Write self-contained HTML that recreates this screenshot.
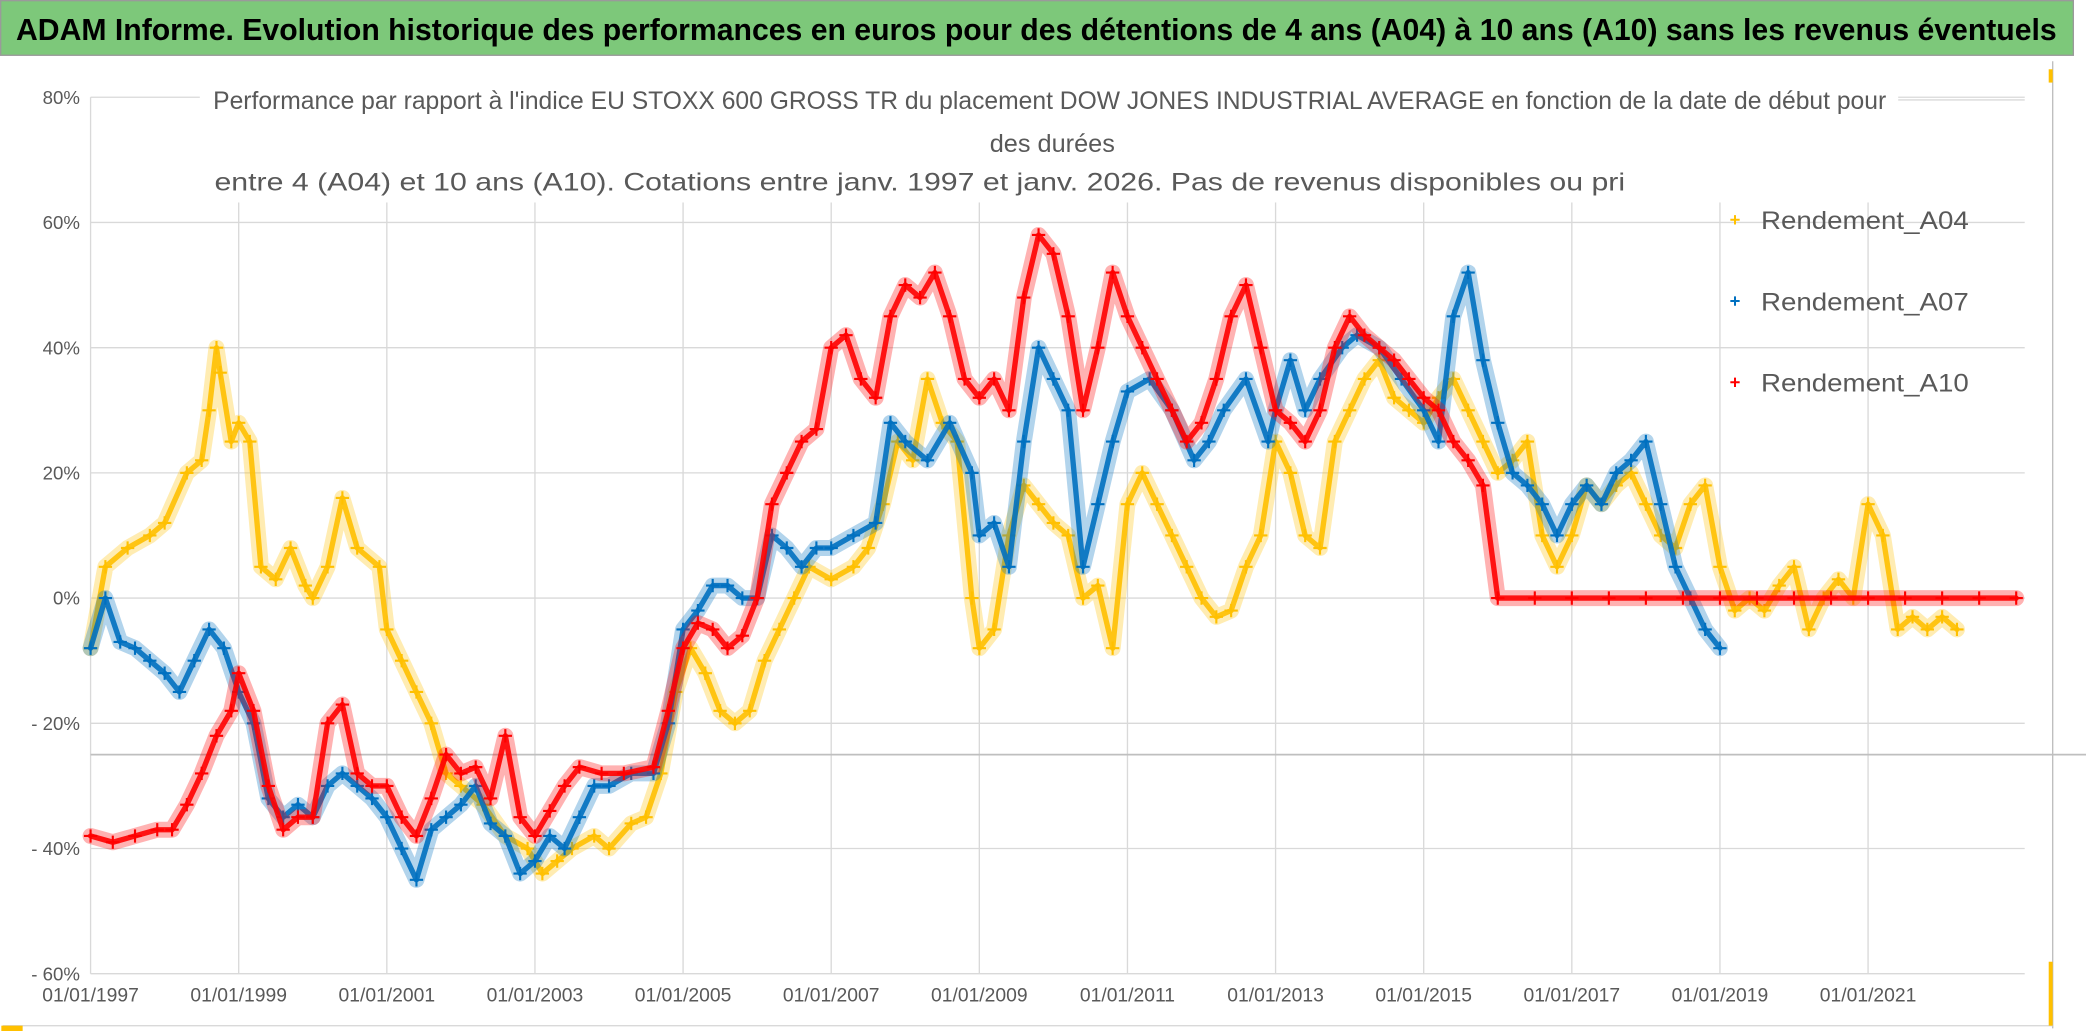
<!DOCTYPE html>
<html><head><meta charset="utf-8">
<style>
html,body{margin:0;padding:0;background:#fff;}
svg{display:block;}
text{font-family:"Liberation Sans",sans-serif;}
</style></head>
<body>
<svg id="chart" width="2086" height="1031" viewBox="0 0 1566 774" preserveAspectRatio="none" xmlns="http://www.w3.org/2000/svg">
<rect x="0" y="0" width="1566" height="774" fill="#fff"/>
<rect x="0.5" y="0.5" width="1556" height="41" fill="#7dc87a" stroke="#9a9a9a"/>
<text x="12" y="30" font-size="23" font-weight="bold" fill="#000" textLength="1532" lengthAdjust="spacingAndGlyphs">ADAM Informe. Evolution historique des performances en euros pour des détentions de 4 ans (A04) à 10 ans (A10) sans les revenus éventuels</text>
<line x1="1541" y1="46" x2="1541" y2="772" stroke="#bdbdbd" stroke-width="1"/>
<line x1="2" y1="770" x2="1541" y2="770" stroke="#d9d9d9" stroke-width="1"/>
<rect x="1" y="770" width="16" height="4" fill="#ffc000"/>
<rect x="1538" y="52" width="3" height="10" fill="#ffc000"/>
<rect x="1538" y="722" width="3" height="48" fill="#ffc000"/>
<g id="grid"></g>
<g id="axes"></g>
<g id="series"></g>
<rect x="150" y="60" width="1275" height="92" fill="#fff"/>
<text x="160" y="82" font-size="19" fill="#595959" textLength="1256" lengthAdjust="spacingAndGlyphs">Performance par rapport à l'indice EU STOXX 600 GROSS TR  du placement DOW JONES INDUSTRIAL AVERAGE en fonction de la date de début pour</text>
<text x="790" y="114" font-size="19" fill="#595959" text-anchor="middle">des durées</text>
<text x="161" y="143" font-size="19" fill="#595959" textLength="1059" lengthAdjust="spacingAndGlyphs">entre 4 (A04) et 10 ans (A10). Cotations entre janv. 1997 et janv. 2026. Pas de revenus disponibles ou pri</text>
<line x1="1425" y1="75" x2="1520" y2="75" stroke="#d9d9d9"/>
<g id="legend"></g>
</svg>
<script>
const NS="http://www.w3.org/2000/svg";
const yTicks=[80,60,40,20,0,-20,-40,-60];
const yTickLabels=["80%","60%","40%","20%","0%","- 20%","- 40%","- 60%"];
const xTicks=[1997,1999,2001,2003,2005,2007,2009,2011,2013,2015,2017,2019,2021];
const xTickLabels=["01/01/1997","01/01/1999","01/01/2001","01/01/2003","01/01/2005","01/01/2007","01/01/2009","01/01/2011","01/01/2013","01/01/2015","01/01/2017","01/01/2019","01/01/2021"];
const refLineValue=-25;

const datesA04=[1997.0,1997.2,1997.5,1997.8,1998.0,1998.3,1998.5,1998.6,1998.7,1998.75,1998.9,1999.0,1999.15,1999.3,1999.5,1999.7,1999.9,2000.0,2000.2,2000.4,2000.6,2000.9,2001.0,2001.2,2001.4,2001.6,2001.8,2002.0,2002.3,2002.6,2002.9,2003.1,2003.3,2003.5,2003.8,2004.0,2004.3,2004.5,2004.7,2004.9,2005.1,2005.3,2005.5,2005.7,2005.9,2006.1,2006.3,2006.5,2006.7,2007.0,2007.3,2007.5,2007.7,2007.9,2008.1,2008.3,2008.5,2008.7,2008.9,2009.0,2009.2,2009.4,2009.6,2009.8,2010.0,2010.2,2010.4,2010.6,2010.8,2011.0,2011.2,2011.4,2011.6,2011.8,2012.0,2012.2,2012.4,2012.6,2012.8,2013.0,2013.2,2013.4,2013.6,2013.8,2014.0,2014.2,2014.4,2014.6,2014.8,2015.0,2015.2,2015.4,2015.6,2015.8,2016.0,2016.2,2016.4,2016.6,2016.8,2017.0,2017.2,2017.4,2017.6,2017.8,2018.0,2018.2,2018.4,2018.6,2018.8,2019.0,2019.2,2019.4,2019.6,2019.8,2020.0,2020.2,2020.4,2020.6,2020.8,2021.0,2021.2,2021.4,2021.6,2021.8,2022.0,2022.2];
const valuesA04=[-8,5,8,10,12,20,22,30,40,36,25,28,25,5,3,8,2,0,5,16,8,5,-5,-10,-15,-20,-28,-30,-33,-38,-40,-44,-42,-40,-38,-40,-36,-35,-28,-15,-8,-12,-18,-20,-18,-10,-5,0,5,3,5,8,15,25,22,35,28,25,0,-8,-5,10,18,15,12,10,0,2,-8,15,20,15,10,5,0,-3,-2,5,10,25,20,10,8,25,30,35,38,32,30,28,32,35,30,25,20,22,25,10,5,10,18,15,18,20,15,10,8,15,18,5,-2,0,-2,2,5,-5,0,3,0,15,10,-5,-3,-5,-3,-5];

const datesA07=[1997.0,1997.2,1997.4,1997.6,1997.8,1998.0,1998.2,1998.4,1998.6,1998.8,1999.0,1999.2,1999.4,1999.6,1999.8,2000.0,2000.2,2000.4,2000.6,2000.8,2001.0,2001.2,2001.4,2001.6,2001.8,2002.0,2002.2,2002.4,2002.6,2002.8,2003.0,2003.2,2003.4,2003.6,2003.8,2004.0,2004.3,2004.6,2004.8,2005.0,2005.2,2005.4,2005.6,2005.8,2006.0,2006.2,2006.4,2006.6,2006.8,2007.0,2007.3,2007.6,2007.8,2008.0,2008.3,2008.6,2008.9,2009.0,2009.2,2009.4,2009.6,2009.8,2010.0,2010.2,2010.4,2010.6,2010.8,2011.0,2011.3,2011.6,2011.9,2012.1,2012.3,2012.6,2012.9,2013.0,2013.2,2013.4,2013.6,2013.9,2014.1,2014.4,2014.7,2015.0,2015.2,2015.4,2015.6,2015.8,2016.0,2016.2,2016.4,2016.6,2016.8,2017.0,2017.2,2017.4,2017.6,2017.8,2018.0,2018.2,2018.4,2018.6,2018.8,2019.0];
const valuesA07=[-8,0,-7,-8,-10,-12,-15,-10,-5,-8,-15,-20,-32,-35,-33,-35,-30,-28,-30,-32,-35,-40,-45,-37,-35,-33,-30,-36,-38,-44,-42,-38,-40,-35,-30,-30,-28,-28,-20,-5,-2,2,2,0,0,10,8,5,8,8,10,12,28,25,22,28,20,10,12,5,25,40,35,30,5,15,25,33,35,30,22,25,30,35,25,30,38,30,35,40,42,40,35,30,25,45,52,38,28,20,18,15,10,15,18,15,20,22,25,15,5,0,-5,-8];

const datesA10=[1997.0,1997.3,1997.6,1997.9,1998.1,1998.3,1998.5,1998.7,1998.9,1999.0,1999.2,1999.4,1999.6,1999.8,2000.0,2000.2,2000.4,2000.6,2000.8,2001.0,2001.2,2001.4,2001.6,2001.8,2002.0,2002.2,2002.4,2002.6,2002.8,2003.0,2003.2,2003.4,2003.6,2003.9,2004.2,2004.6,2004.8,2005.0,2005.2,2005.4,2005.6,2005.8,2006.0,2006.2,2006.4,2006.6,2006.8,2007.0,2007.2,2007.4,2007.6,2007.8,2008.0,2008.2,2008.4,2008.6,2008.8,2009.0,2009.2,2009.4,2009.6,2009.8,2010.0,2010.2,2010.4,2010.6,2010.8,2011.0,2011.2,2011.4,2011.6,2011.8,2012.0,2012.2,2012.4,2012.6,2012.8,2013.0,2013.2,2013.4,2013.6,2013.8,2014.0,2014.2,2014.4,2014.6,2014.8,2015.0,2015.2,2015.4,2015.6,2015.8,2016.0,2016.5,2017.0,2017.5,2018.0,2018.5,2019.0,2019.5,2020.0,2020.5,2021.0,2021.5,2022.0,2022.5,2023.0];
const valuesA10=[-38,-39,-38,-37,-37,-33,-28,-22,-18,-12,-18,-30,-37,-35,-35,-20,-17,-28,-30,-30,-35,-38,-32,-25,-28,-27,-32,-22,-35,-38,-34,-30,-27,-28,-28,-27,-18,-8,-4,-5,-8,-6,0,15,20,25,27,40,42,35,32,45,50,48,52,45,35,32,35,30,48,58,55,45,30,40,52,45,40,35,30,25,28,35,45,50,40,30,28,25,30,40,45,42,40,38,35,32,30,25,22,18,0,0,0,0,0,0,0,0,0,0,0,0,0,0,0];

const X0=68, PXY=55.6, Y0=449, PXP=4.7, XR=1520;
function xs(d){return X0+(d-1997)*PXY;}
function ys(v){return Y0-v*PXP;}
function mk(tag,attrs,parent){const e=document.createElementNS(NS,tag);for(const k in attrs)e.setAttribute(k,attrs[k]);parent.appendChild(e);return e;}

const grid=document.getElementById('grid');
yTicks.forEach((t,i)=>{
  const l=mk('line',{x1:X0,x2:XR,y1:ys(t),y2:ys(t),stroke:'#d9d9d9','stroke-width':1},grid);
  
  
  const tx=mk('text',{x:60,y:ys(t)+5,'font-size':14,fill:'#595959','text-anchor':'end'},grid);
  tx.textContent=yTickLabels[i];
  
  
});
xTicks.forEach((t,i)=>{
  const l=mk('line',{x1:xs(t),x2:xs(t),y1:ys(80),y2:ys(-60),stroke:'#d9d9d9','stroke-width':1},grid);
  
  
  const tx=mk('text',{x:xs(t),y:752,'font-size':14.5,fill:'#595959','text-anchor':'middle'},grid);
  tx.textContent=xTickLabels[i];
  
  
});
const ref=mk('line',{x1:X0,x2:1566,y1:ys(refLineValue),y2:ys(refLineValue),stroke:'#bfbfbf','stroke-width':1.3},grid);



const seriesG=document.getElementById('series');
function drawSeries(name,dates,vals,color){
  const g=mk('g',{},seriesG);
  
  
  const pts=dates.map((d,i)=>xs(d).toFixed(1)+','+ys(vals[i]).toFixed(1)).join(' ');
  const halo=mk('polyline',{points:pts,fill:'none',stroke:color,'stroke-width':12,'stroke-linejoin':'round','stroke-linecap':'round',opacity:0.3},g);
  
  
  const pl=mk('polyline',{points:pts,fill:'none',stroke:color,'stroke-width':4,'stroke-linejoin':'round','stroke-linecap':'round',opacity:0.9},g);
  
  
  dates.forEach((d,i)=>{
    const x=xs(d),y=ys(vals[i]);
    const p=mk('path',{d:`M${x-5},${y}h10M${x},${y-5}v10`,stroke:color,'stroke-width':1.6},g);
    
    
  });
}
drawSeries('series-a04',datesA04,valuesA04,'#ffc000');
drawSeries('series-a07',datesA07,valuesA07,'#0070c0');
drawSeries('series-a10',datesA10,valuesA10,'#ff0000');

const legendNames=['Rendement_A04','Rendement_A07','Rendement_A10'];
const legendColors=['#ffc000','#0070c0','#ff0000'];
const lg=document.getElementById('legend');
legendNames.forEach((n,i)=>{
  const y=165+i*61;
  const g=mk('g',{},lg);
  
  
  mk('path',{d:`M${1299},${y}h7M${1302.5},${y-3.5}v7`,stroke:legendColors[i],'stroke-width':1.5},g);
  const t=mk('text',{x:1322,y:y+7,'font-size':19,fill:'#595959',textLength:156,lengthAdjust:'spacingAndGlyphs'},g);
  t.textContent=n;
});
</script>
</body></html>
